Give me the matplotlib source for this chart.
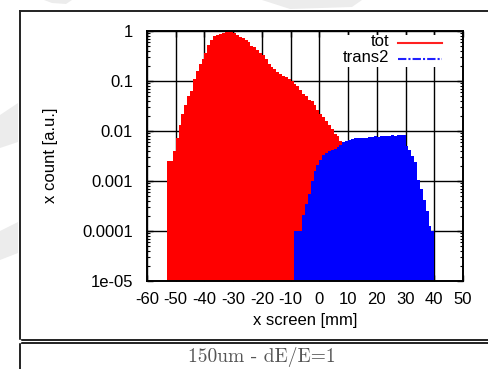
import matplotlib
matplotlib.use("Agg")
import matplotlib.pyplot as plt
import numpy as np
from matplotlib.lines import Line2D
from matplotlib.patches import Polygon, Rectangle
from matplotlib.ticker import LogLocator, FixedLocator, NullFormatter

plt.rcParams['font.family'] = ['Liberation Sans', 'DejaVu Sans']

# ---------------- data ----------------
red_bin_start = -53          # left edge of first 1 mm bin (tot)
red_values = [0.0025, 0.0025, 0.0040, 0.0072, 0.013, 0.022, 0.033, 0.050, 0.063,
              0.11, 0.16, 0.22, 0.28, 0.36, 0.52, 0.66, 0.79, 0.85, 0.89, 0.93,
              0.95, 1.0, 0.99, 0.93, 0.83, 0.76, 0.71, 0.65, 0.59, 0.51, 0.47,
              0.42, 0.36, 0.33, 0.28, 0.22, 0.19, 0.17, 0.15, 0.135, 0.125, 0.118,
              0.11, 0.10, 0.088, 0.078, 0.066, 0.056, 0.051, 0.042, 0.040,
              0.033, 0.026, 0.022, 0.019, 0.016, 0.013, 0.011, 0.0089, 0.0079,
              0.0063, 0.0052, 0.0045, 0.0035]

blue_bin_start = -9          # left edge of first 1 mm bin (trans2)
blue_values = [0.0001, 0.0001, 0.0001, 0.00021, 0.00035, 0.00056, 0.0010, 0.0016,
               0.0021, 0.0026, 0.0033, 0.0036, 0.0040, 0.0042, 0.0044, 0.0048,
               0.0052, 0.0060, 0.0063, 0.0066, 0.0068, 0.0071, 0.0072, 0.0073,
               0.0074, 0.0074, 0.0076, 0.0076, 0.0078, 0.0077, 0.0079, 0.0080,
               0.0079, 0.0081, 0.0082, 0.0081, 0.0083, 0.0083, 0.0084, 0.0050,
               0.0042, 0.0032, 0.0024, 0.00105, 0.0007, 0.00042, 0.00025,
               0.000126, 0.0001]

x_ticks = [-60, -50, -40, -30, -20, -10, 0, 10, 20, 30, 40, 50]
y_ticks = [1e-5, 1e-4, 1e-3, 1e-2, 1e-1, 1]
y_tick_labels = ['1e-05', '0.0001', '0.001', '0.01', '0.1', '1']
series_names = ['tot', 'trans2']
x_label = 'x screen [mm]'
y_label = 'x count [a.u.]'
caption = '150um - dE/E=1'

# ---------------- figure ----------------
W, H = 488, 369
fig = plt.figure(figsize=(W / 100, H / 100), dpi=100)
fig.patch.set_facecolor('white')

def fx(px):
    return px / W

def fy(py):
    return 1 - py / H

# light background stripes of the slide
gray = '#ececec'
for pts in [
    [(44, 0), (72, 0), (66, 4), (52, 3)],
    [(262, 0), (362, 0), (352, 7), (290, 9)],
    [(0, 115), (18, 103), (18, 142), (0, 148)],
    [(0, 231), (18, 222), (18, 253), (0, 260)],
]:
    fig.add_artist(Polygon([(fx(a), fy(b)) for a, b in pts], closed=True,
                           facecolor=gray, edgecolor='none',
                           transform=fig.transFigure, zorder=0))

# frame lines
lw_frame = 1.4
for (x0, y0, x1, y1) in [
    (19.5, 10.5, 488, 10.5),
    (19.5, 10.5, 19.5, 369),
    (19.5, 339.6, 488, 339.6),
    (19.5, 343.4, 488, 343.4),
]:
    fig.add_artist(Line2D([fx(x0), fx(x1)], [fy(y0), fy(y1)], color='#222222',
                          lw=lw_frame, transform=fig.transFigure))

fig.add_artist(Line2D([fx(19.5), fx(19.5)], [fy(340.6), fy(342.4)], color='white',
                      lw=lw_frame + 0.4, transform=fig.transFigure))

ax = fig.add_axes([147 / W, 1 - 281 / H, (463 - 147) / W, (281 - 31) / H])
ax.set_yscale('log')
ax.set_xlim(-60, 50)
ax.set_ylim(1e-5, 1)

red_edges = np.arange(len(red_values) + 1) + red_bin_start
blue_edges = np.arange(len(blue_values) + 1) + blue_bin_start

ax.stairs(red_values, red_edges, fill=True, baseline=1e-6, color='#ff0000',
          zorder=2)
ax.stairs(blue_values, blue_edges, fill=True, baseline=1e-6, color='#0000ff',
          zorder=3)

ax.xaxis.set_major_locator(FixedLocator(x_ticks))
ax.yaxis.set_major_locator(FixedLocator(y_ticks))
ax.set_yticklabels(y_tick_labels)
ax.set_xticklabels([str(t) for t in x_ticks])
ax.yaxis.set_minor_locator(LogLocator(base=10, subs=np.arange(2, 10)))
ax.yaxis.set_minor_formatter(NullFormatter())
ax.set_axisbelow(True)
ax.grid(True, which='major', color='black', lw=1.0)

for s in ax.spines.values():
    s.set_linewidth(1.4)
    s.set_color('black')
    s.set_zorder(6)

ax.tick_params(which='major', direction='in', length=4, width=1.0,
               top=True, right=True, labelsize=12, colors='black')
ax.tick_params(axis='y', which='major', pad=10)
ax.tick_params(axis='x', which='major', pad=8)
ax.tick_params(which='minor', direction='in', length=2.5, width=0.8,
               left=True, right=True)

ax.set_xlabel(x_label, fontsize=12, labelpad=4)
fig.text(fx(51), fy(155), y_label, rotation=90, fontsize=12,
         ha='center', va='center')

# legend (gnuplot style, white key box without border hiding the grid)
fig.add_artist(Rectangle((fx(343), fy(67)), fx(447) - fx(343), fy(35) - fy(67),
                         facecolor='white', edgecolor='none',
                         transform=fig.transFigure, zorder=5))
leg_colors = ['#ff2020', '#2020ff']
leg_styles = ['-', (0, (4, 1, 1, 1))]
leg_y = [42, 58]
for name, c, ls, yy in zip(series_names, leg_colors, leg_styles, leg_y):
    fig.text(fx(389), fy(yy), name, fontsize=12, ha='right', va='center',
             zorder=10)
    fig.add_artist(Line2D([fx(398), fx(442)], [fy(yy + 0.5), fy(yy + 0.5)],
                          color=c, lw=1.5, linestyle=ls,
                          transform=fig.transFigure, zorder=10))

fig.text(fx(262), fy(357), caption, fontsize=14, family=['cmr10', 'DejaVu Serif'],
         color='#555555', ha='center', va='center')

fig.savefig('out.png', dpi=100, facecolor='white')
